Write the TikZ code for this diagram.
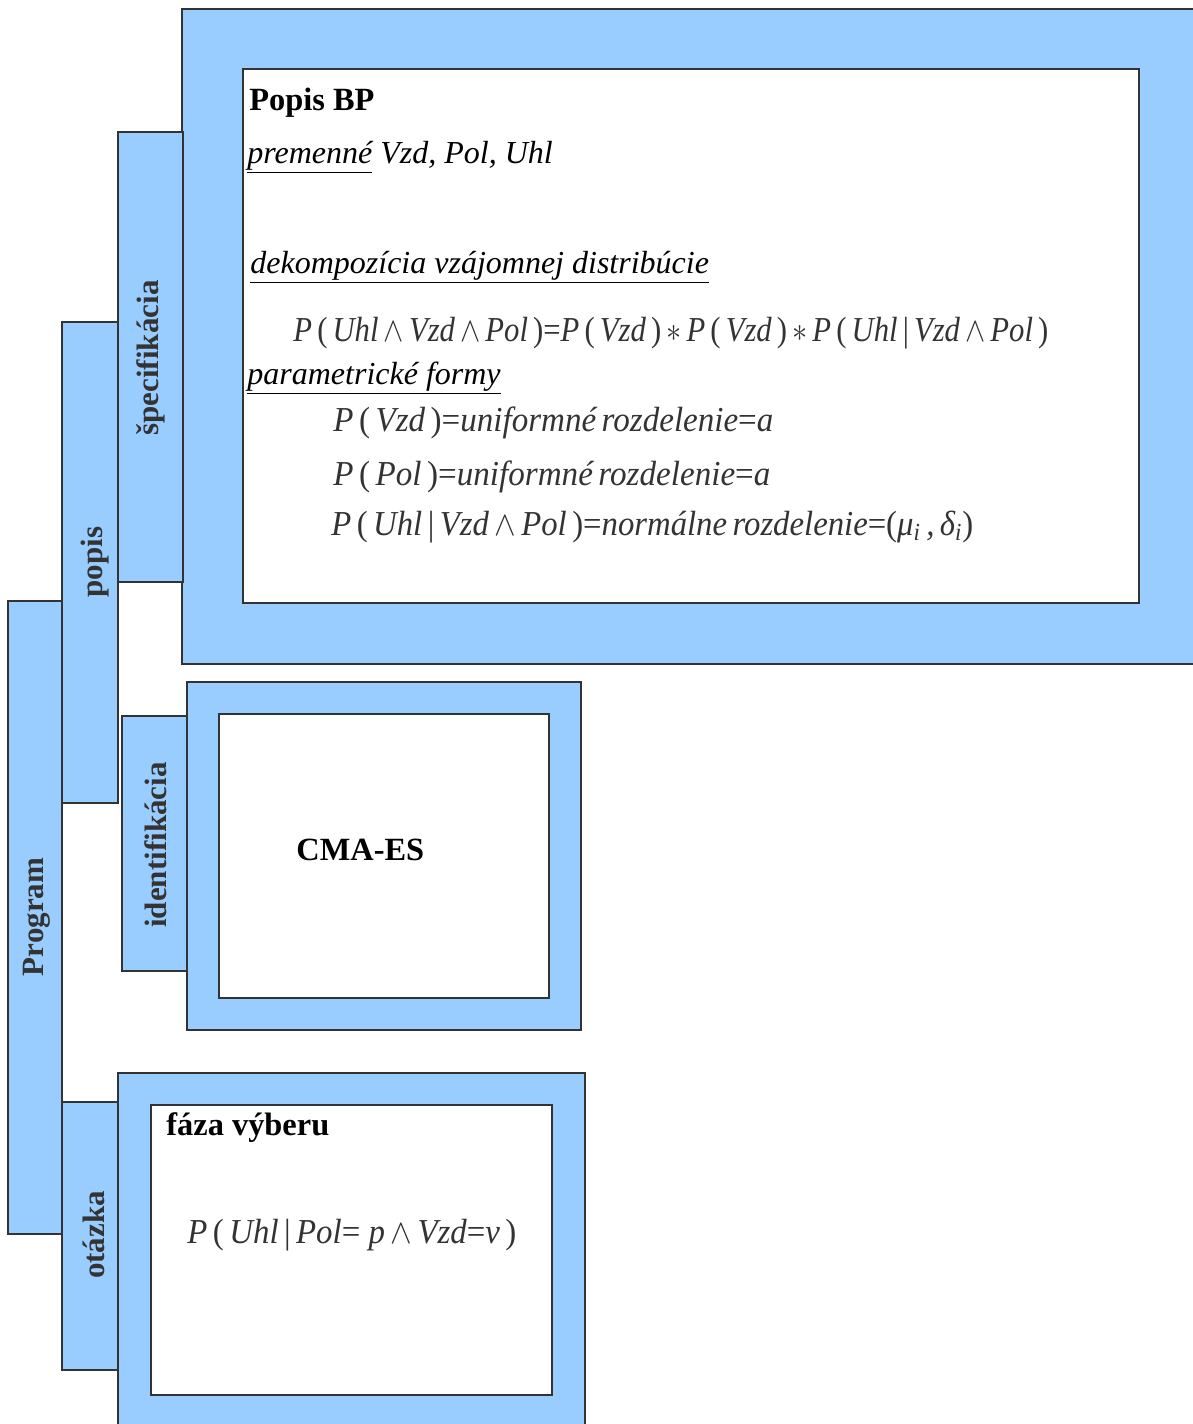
\documentclass[tikz,border=0pt]{standalone}
\usepackage{fontspec}
\usepackage{graphicx}
\setmainfont{Liberation Serif}
\definecolor{bluef}{HTML}{99CCFF}
\definecolor{linec}{HTML}{333333}
\definecolor{labc}{HTML}{333333}
\definecolor{mathc}{HTML}{333333}
\newcommand\Wd{\,\ensuremath{\wedge}\,}
\newcommand\Ast{\,\ensuremath{\ast}\,}
\newcommand\Eq{\textup{=}}
\newcommand\Lp{\,\textup{(}\,}
\newcommand\Rp{\,\textup{)}}
\newcommand\Bar{\,\textup{|}\,}
\newcommand\fitw[2]{\resizebox{#1}{\height}{#2}}
\begin{document}
\begin{tikzpicture}[x=0.5pt,y=-0.5pt,
  bluebox/.style={draw=linec, fill=bluef, line width=0.7pt},
  whitebox/.style={draw=linec, fill=white, line width=0.7pt},
  vlab/.style={rotate=90, font=\bfseries\fontsize{15.5}{18}\selectfont, text=labc, inner sep=0},
  txt/.style={anchor=base west, inner sep=0, font=\fontsize{16.2}{20}\selectfont},
  btxt/.style={txt, font=\bfseries\fontsize{16.2}{20}\selectfont},
  itxt/.style={txt, font=\itshape\fontsize{16}{20}\selectfont},
  mth/.style={anchor=base west, inner sep=0, font=\itshape\fontsize{17.5}{20}\selectfont, text=mathc}]
\useasboundingbox (0,0) rectangle (1193,1424);
% boxes
\draw[bluebox] (182,9) rectangle (1204,664);
\draw[whitebox] (243,69) rectangle (1139,603);
\draw[bluebox] (118,132) rectangle (183,582);
\draw[bluebox] (62,322) rectangle (118,803);
\draw[bluebox] (8,601) rectangle (62,1234);
\draw[bluebox] (122,716) rectangle (187,971);
\draw[bluebox] (187,682) rectangle (581,1030);
\draw[whitebox] (219,714) rectangle (549,998);
\draw[bluebox] (62,1102) rectangle (118,1370);
\draw[bluebox] (118,1073) rectangle (585,1434);
\draw[whitebox] (151,1105) rectangle (552,1395);
% vertical labels
\node[vlab] (spec) at (151,358) {špecifikácia};
\node[vlab] (popis) at (95,562) {popis};
\node[vlab] (prog) at (37,917) {Program};
\node[vlab] (ident) at (156,845) {identifikácia};
\node[vlab] (otaz) at (94,1235) {otázka};
% top box text
\node[btxt] (t1) at (249,110) {Popis BP};
\node[itxt] (t2) at (247,163) {\underline{premenné} Vzd, Pol, Uhl};
\node[itxt] (t3) at (250,273) {\underline{dekompozícia vzájomnej distribúcie}};
\node[mth] (m1) at (293,341) {\fitw{377.5pt}{P\Lp Uhl\Wd Vzd\Wd Pol\Rp\Eq P\Lp Vzd\Rp\Ast P\Lp Vzd\Rp\Ast P\Lp Uhl\Bar Vzd\Wd Pol\Rp}};
\node[itxt] (t4) at (247,384) {\underline{parametrické formy}};
\node[mth] (m2) at (333,431) {\fitw{220pt}{P\Lp Vzd\Rp\Eq uniformné\,rozdelenie\Eq a}};
\node[mth] (m3) at (333,485) {\fitw{218.5pt}{P\Lp Pol\Rp\Eq uniformné\,rozdelenie\Eq a}};
\node[mth] (m4) at (331,535) {\fitw{321pt}{P\Lp Uhl\Bar Vzd\Wd Pol\Rp\Eq normálne\,rozdelenie\Eq\textup{(}μ\textsubscript{\itshape i}\,,\,δ\textsubscript{\itshape i}\textup{)}}};
% CMA-ES
\node[btxt] (cma) at (296,860) {CMA-ES};
% faza
\node[btxt] (faza) at (166,1135) {fáza výberu};
\node[mth] (m5) at (187,1243) {\fitw{164.5pt}{P\Lp Uhl\Bar Pol\Eq\ p\Wd Vzd\Eq v\Rp}};
\end{tikzpicture}
\end{document}
